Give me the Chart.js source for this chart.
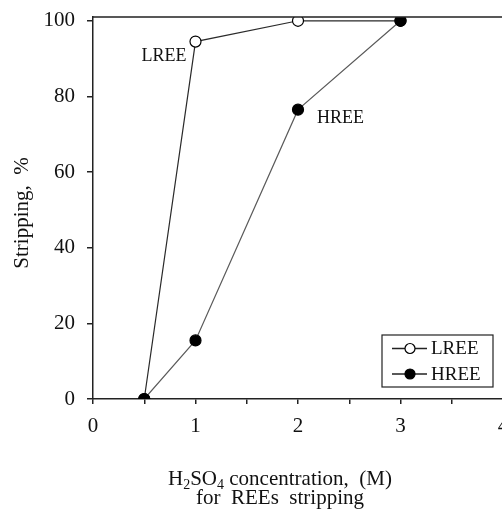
<!DOCTYPE html>
<html>
<head>
<meta charset="utf-8">
<script src="https://cdn.jsdelivr.net/npm/chart.js@4.4.1/dist/chart.umd.min.js"></script>
<style>
  html, body { margin: 0; padding: 0; background: #fff; overflow: hidden; }
  #wrap { width: 520px; height: 512px; }
</style>
</head>
<body>
<div id="wrap"><canvas id="c" width="520" height="512"></canvas></div>
<script>
// H2SO4 concentration (M) used for stripping
const concentration = [0.5, 1, 2, 3];
// Stripping efficiency, %
const lreeStripping = [0, 94.5, 100, 100];
const hreeStripping = [0, 15.5, 76.5, 100];
const seriesNames = ['LREE', 'HREE'];
const yTickValues = [0, 20, 40, 60, 80, 100];
const yTitle = 'Stripping,  %';
const xTitleLine2 = 'for  REEs  stripping';

const SERIF = '"Liberation Serif", "Times New Roman", serif';
const INK = '#222';

function toPoints(xs, ys) { return xs.map((x, i) => ({ x, y: ys[i] })); }

// Frame top edge, in-plot series labels, legend box and the axis titles
const decorations = {
  id: 'decorations',
  afterDraw(chart) {
    const { ctx, chartArea: a, scales } = chart;
    const xs = scales.x, ys = scales.y;
    ctx.save();

    // top border of the plot frame
    ctx.strokeStyle = INK;
    ctx.lineWidth = 1.5;
    ctx.beginPath();
    ctx.moveTo(a.left, a.top);
    ctx.lineTo(a.right, a.top);
    ctx.lineTo(a.right, a.bottom);
    ctx.stroke();

    // series labels next to their second point
    ctx.fillStyle = '#111';
    ctx.font = '18px ' + SERIF;
    ctx.textBaseline = 'middle';
    ctx.textAlign = 'right';
    ctx.fillText(seriesNames[0], xs.getPixelForValue(concentration[1]) - 9, ys.getPixelForValue(lreeStripping[1]) + 15);
    ctx.textAlign = 'left';
    ctx.fillText(seriesNames[1], xs.getPixelForValue(concentration[2]) + 19, ys.getPixelForValue(hreeStripping[2]) + 9);

    // legend
    const bx = a.left + 289, by = a.top + 318, bw = 111, bh = 52;
    ctx.lineWidth = 1.2;
    ctx.strokeStyle = INK;
    ctx.strokeRect(bx, by, bw, bh);
    ctx.font = '19px ' + SERIF;
    const rows = [
      { name: seriesNames[0], fill: '#fff', y: by + 13.5 },
      { name: seriesNames[1], fill: '#000', y: by + 39 }
    ];
    rows.forEach(r => {
      ctx.strokeStyle = INK;
      ctx.lineWidth = 1.3;
      ctx.beginPath();
      ctx.moveTo(bx + 10, r.y);
      ctx.lineTo(bx + 45, r.y);
      ctx.stroke();
      ctx.beginPath();
      ctx.arc(bx + 28, r.y, 5, 0, Math.PI * 2);
      ctx.fillStyle = r.fill;
      ctx.fill();
      ctx.lineWidth = 1.2;
      ctx.strokeStyle = '#000';
      ctx.stroke();
      ctx.fillStyle = '#111';
      ctx.textAlign = 'left';
      ctx.textBaseline = 'middle';
      ctx.fillText(r.name, bx + 49, r.y + 1);
    });

    // y-axis title, rotated
    ctx.save();
    ctx.translate(22, 213);
    ctx.rotate(-Math.PI / 2);
    ctx.font = '21px ' + SERIF;
    ctx.fillStyle = '#111';
    ctx.textAlign = 'center';
    ctx.textBaseline = 'middle';
    ctx.fillText(yTitle, 0, 0);
    ctx.restore();

    // x-axis title with subscripts
    const cx = 280;
    const big = '21px ' + SERIF, small = '14px ' + SERIF;
    const parts = [
      { t: 'H', f: big, dy: 0 },
      { t: '2', f: small, dy: 4 },
      { t: 'SO', f: big, dy: 0 },
      { t: '4', f: small, dy: 4 },
      { t: ' concentration,  (M)', f: big, dy: 0 }
    ];
    let w = 0;
    parts.forEach(p => { ctx.font = p.f; p.w = ctx.measureText(p.t).width; w += p.w; });
    let x = cx - w / 2;
    const base1 = 485;
    ctx.textAlign = 'left';
    ctx.textBaseline = 'alphabetic';
    ctx.fillStyle = '#111';
    parts.forEach(p => { ctx.font = p.f; ctx.fillText(p.t, x, base1 + p.dy); x += p.w; });
    ctx.font = big;
    ctx.textAlign = 'center';
    ctx.fillText(xTitleLine2, cx, base1 + 19);

    ctx.restore();
  }
};

new Chart(document.getElementById('c'), {
  type: 'line',
  data: {
    datasets: [
      {
        label: seriesNames[0],
        data: toPoints(concentration, lreeStripping),
        borderColor: '#2a2a2a',
        borderWidth: 1.2,
        pointRadius: 5.5,
        pointBackgroundColor: '#fff',
        pointBorderColor: '#000',
        pointBorderWidth: 1.2,
        order: 1
      },
      {
        label: seriesNames[1],
        data: toPoints(concentration, hreeStripping),
        borderColor: '#5a5a5a',
        borderWidth: 1.2,
        pointRadius: 5.5,
        pointBackgroundColor: '#000',
        pointBorderColor: '#000',
        pointBorderWidth: 1.2,
        order: 0
      }
    ]
  },
  options: {
    responsive: false,
    animation: false,
    devicePixelRatio: 1,
    layout: { padding: { left: 0, top: 17, right: 17, bottom: 0 } },
    plugins: { legend: { display: false }, tooltip: { enabled: false } },
    scales: {
      x: {
        type: 'linear',
        min: 0,
        max: 4,
        border: { color: INK, width: 1.5 },
        grid: { drawOnChartArea: false, drawTicks: true, tickLength: 5, color: INK, lineWidth: 1.5 },
        ticks: {
          stepSize: 0.5,
          autoSkip: false,
          maxRotation: 0,
          padding: 10,
          color: '#111',
          font: { family: SERIF, size: 21 },
          callback: v => Number.isInteger(v) ? String(v) : ''
        },
        afterFit: s => { s.height = 113; s.paddingLeft = 0; s.paddingRight = 0; }
      },
      y: {
        type: 'linear',
        min: 0,
        max: 101,
        border: { color: INK, width: 1.5 },
        grid: { drawOnChartArea: false, drawTicks: true, tickLength: 6, color: INK, lineWidth: 1.5 },
        ticks: {
          stepSize: 20,
          padding: 12,
          color: '#111',
          font: { family: SERIF, size: 21 }
        },
        afterBuildTicks: s => { s.ticks = yTickValues.map(v => ({ value: v })); },
        afterFit: s => { s.width = 93; s.paddingTop = 0; s.paddingBottom = 0; }
      }
    }
  },
  plugins: [decorations]
});
</script>
</body>
</html>
